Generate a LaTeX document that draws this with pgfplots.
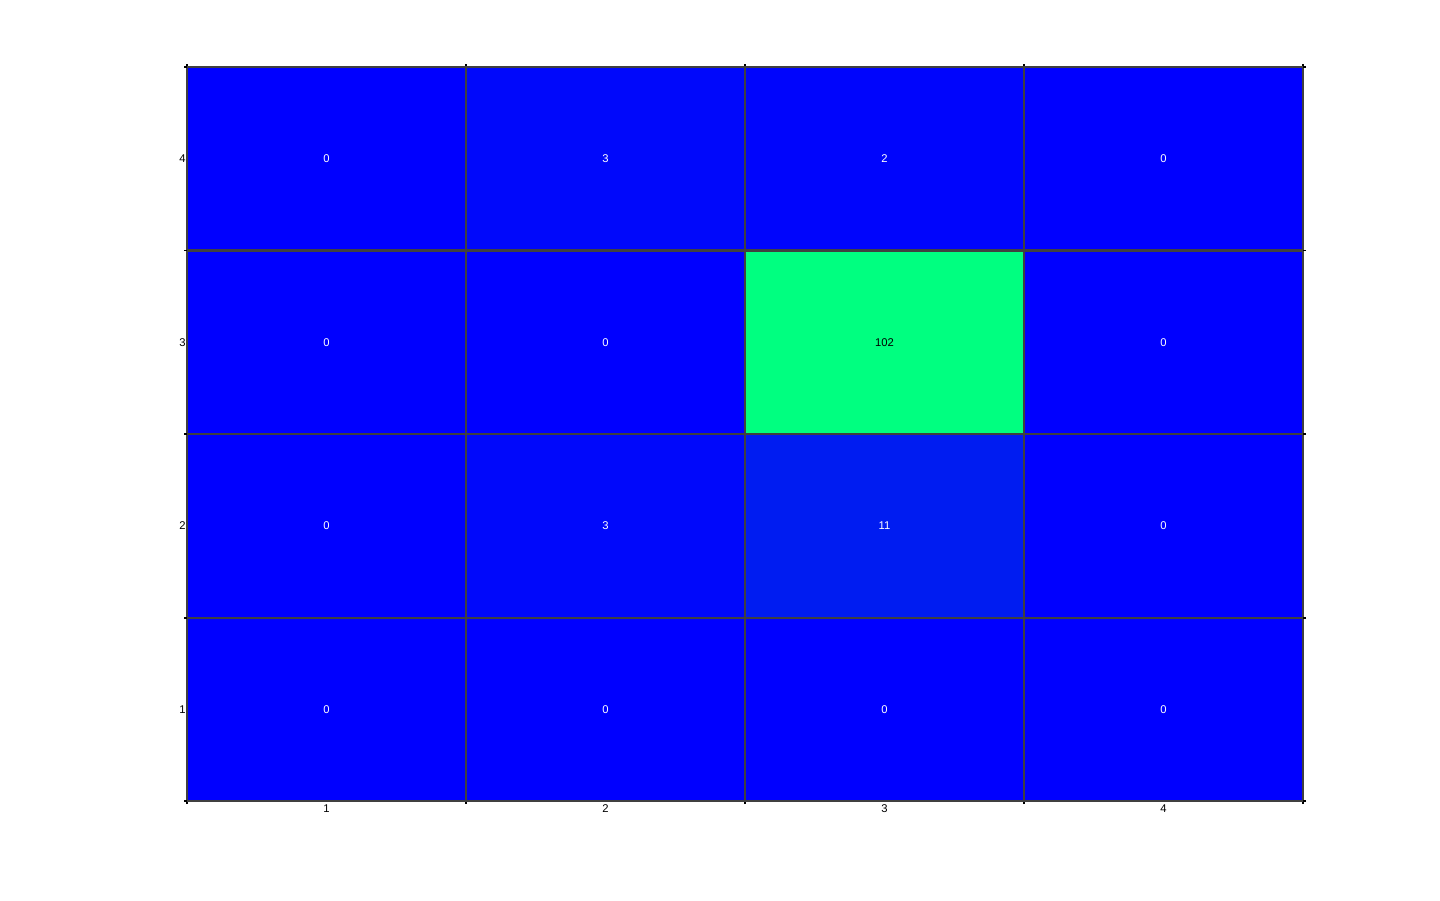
\documentclass[border=0pt]{standalone}
\usepackage{pgfplots}
\pgfplotsset{compat=1.18}
\usepackage{fontspec}
\setmainfont{Liberation Sans}
\setsansfont{Liberation Sans}

\pgfplotstableread{
x y c
1 1 0
2 1 0
3 1 0
4 1 0
1 2 0
2 2 3
3 2 11
4 2 0
1 3 0
2 3 0
3 3 102
4 3 0
1 4 0
2 4 3
3 4 2
4 4 0
}\cells

\pgfplotstableread{
x y c
1 1 0
2 1 0
3 1 0
4 1 0
1 2 0
2 2 3
3 2 11
4 2 0
1 3 0
2 3 0
4 3 0
1 4 0
2 4 3
3 4 2
4 4 0
}\darklabels

\pgfplotstableread{
x y c
3 3 102
}\lightlabels

\begin{document}
\begin{tikzpicture}[x=0.1mm,y=0.1mm]
\begin{axis}[
    at={(0,0)}, anchor=south west,
    scale only axis,
    width=111.6mm, height=73.4mm,
    xmin=0.5, xmax=4.5, ymin=0.5, ymax=4.5,
    axis line style={draw=black!75, line width=0.45pt},
    xtick={1,2,3,4}, ytick={1,2,3,4},
    extra x ticks={0.5,1.5,2.5,3.5,4.5},
    extra y ticks={0.5,1.498,2.5,3.5,4.5},
    extra x tick labels={}, extra y tick labels={},
    extra tick style={grid=major, major tick length=0.3mm,
        tick style={black, line width=0.45pt},
        major grid style={draw=black!75, line width=0.6pt}},
    major tick length=0pt,
    tick align=outside,
    ticklabel style={font=\fontsize{3.2}{4}\selectfont},
    xticklabel style={yshift=0.9mm},
    yticklabel style={xshift=1.1mm},
    /pgf/number format/assume math mode=true,
    colormap={winter}{rgb255=(0,0,255) rgb255=(0,255,128)},
    point meta min=0, point meta max=102,
    axis on top,
]
\addplot[matrix plot*, mesh/cols=4, point meta=explicit]
    table[meta=c] {\cells};
\addplot[only marks, mark=none, point meta=explicit,
    nodes near coords, nodes near coords align=center,
    every node near coord/.append style={text=white, font=\fontsize{3.2}{4}\selectfont, anchor=center}]
    table[meta=c] {\darklabels};
\addplot[only marks, mark=none, point meta=explicit,
    nodes near coords, nodes near coords align=center,
    every node near coord/.append style={text=black, font=\fontsize{3.2}{4}\selectfont, anchor=center}]
    table[meta=c] {\lightlabels};
\end{axis}
\useasboundingbox (-187,-99) rectangle (1253,801);
\end{tikzpicture}
\end{document}
